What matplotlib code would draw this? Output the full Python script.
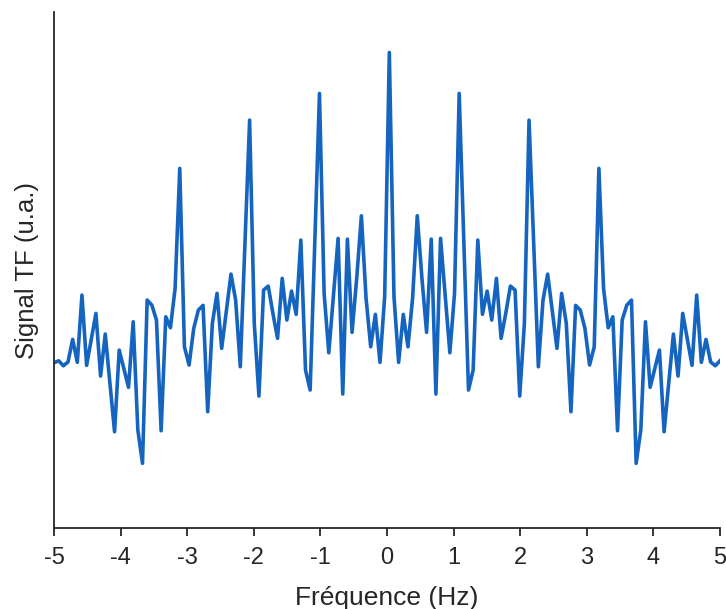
import numpy as np
import matplotlib
matplotlib.use('Agg')
import matplotlib.pyplot as plt

plt.rcParams['font.family'] = ['Liberation Sans', 'DejaVu Sans']

# spectrum samples (arbitrary units)
signal_tf = [
    -0.07, 0.13, -0.37, 0.0, 2.27, -0.03, 6.7, -0.33, 2.3, 4.87,
    -1.4, 2.8, -2.1, -6.97, 1.2, -0.66, -2.53, 4.03, -6.8, -10.13,
    6.2, 5.7, 4.2, -6.87, 4.53, 3.43, 7.37, 19.37, 1.53, -0.3,
    3.37, 5.2, 5.67, -4.97, 3.87, 6.87, 1.37, 5.1, 8.8, 6.2,
    -0.47, 11.9, 24.2, 3.87, -3.4, 7.2, 7.6, 4.87, 2.37, 8.37,
    4.2, 7.1, 4.77, 12.2, -0.8, -2.8, 12.0, 26.87, 6.87, 0.93,
    6.65, 12.37, -3.2, 12.3, 2.97, 8.4, 14.63, 6.4, 1.53, 4.77,
    -0.03, 6.53, 30.97,
    6.53, -0.03, 4.77, 1.53, 6.4, 14.63, 8.4, 2.97, 12.3, -3.2,
    12.37, 6.65, 0.93, 6.87, 26.87, 12.0, -2.8, -0.8, 12.2, 4.77,
    7.1, 4.2, 8.37, 2.37, 4.87, 7.6, 7.2, -3.4, 3.87, 24.2,
    11.9, -0.47, 6.2, 8.8, 5.1, 1.37, 6.87, 3.87, -4.97, 5.67,
    5.2, 3.37, -0.3, 1.53, 19.37, 7.37, 3.43, 4.53, -6.87, 4.2,
    5.7, 6.2, -10.13, -6.8, 4.03, -2.53, -0.66, 1.2, -6.97, -2.1,
    2.8, -1.4, 4.87, 2.3, -0.33, 6.7, -0.03, 2.27, 0.0, -0.37,
    0.13,
]
freq = np.linspace(-5, 5, len(signal_tf))
xticks = [-5, -4, -3, -2, -1, 0, 1, 2, 3, 4, 5]

fig = plt.figure(figsize=(7.26, 6.09), dpi=100)
ax = fig.add_axes([0.0744, 0.133, 0.9173, 0.847])
ax.plot(freq, signal_tf, color='#1565c0', lw=2.6)

ax.set_xlim(-5, 5)
ax.set_ylim(-16.6, 35.0)
ax.set_xticks(xticks)
ax.set_xticklabels([str(t) for t in xticks])
ax.set_yticks([])
for s in ['top', 'right']:
    ax.spines[s].set_visible(False)
for s in ['left', 'bottom']:
    ax.spines[s].set_linewidth(1.3)
    ax.spines[s].set_color('#262626')
ax.tick_params(axis='x', direction='out', length=6, width=1.3,
               color='#262626', labelsize=17, labelcolor='#262626', pad=8)
ax.set_xlabel('Fréquence (Hz)', fontsize=19, color='#262626', labelpad=12)
ax.set_ylabel('Signal TF (u.a.)', fontsize=18.5, color='#262626', labelpad=11)

fig.savefig('out.png', dpi=100)
